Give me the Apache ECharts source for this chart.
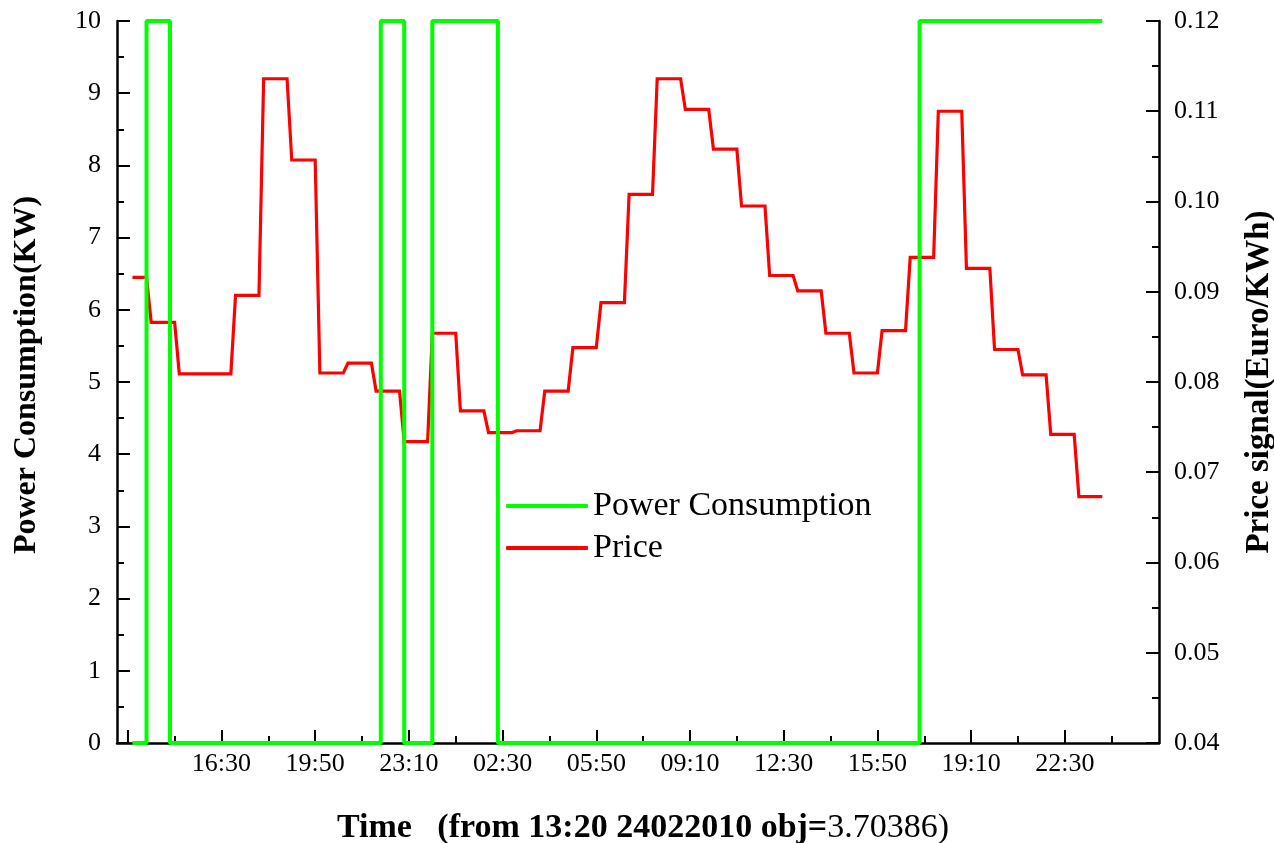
<!DOCTYPE html>
<html><head><meta charset="utf-8">
<script src="https://cdn.jsdelivr.net/npm/echarts@6/dist/echarts.min.js"></script>
<style>html,body{margin:0;padding:0;background:#fff}#c{width:1274px;height:843px}</style>
</head><body><div id="c"></div>
<script>
// x tick labels (every 200 min, starting at the 2nd major tick)
const xTickLabels = ['16:30','19:50','23:10','02:30','05:50','09:10','12:30','15:50','19:10','22:30'];
// hourly price blocks (start time of each block), Euro/KWh
const priceStarts = ['13:20','14:00','15:00','16:00','17:00','18:00','19:00','20:00','21:00','22:00','23:00',
  '00:00','01:00','02:00','03:00','04:00','05:00','06:00','07:00','08:00','09:00','10:00','11:00',
  '12:00','13:00','14:00','15:00','16:00','17:00','18:00','19:00','20:00','21:00','22:00','23:00'];
const priceValues = [0.0916,0.0866,0.0809,0.0809,0.0896,0.1136,0.1046,0.0810,0.0821,0.0790,0.0734,
  0.0854,0.0768,0.0744,0.0746,0.0790,0.0838,0.0888,0.1008,0.1136,0.1102,0.1058,0.0995,
  0.0918,0.0901,0.0854,0.0810,0.0857,0.0938,0.1100,0.0926,0.0836,0.0808,0.0742,0.0673];
// power consumption change points (KW)
const powerTimes = ['13:20','13:50','14:40','22:10','23:00','00:00','02:20','17:20','23:50'];
const powerValues = [0,10,0,10,0,10,0,10,10];

// minutes since 13:10 of day 1 (origin of the axis' first major tick)
function toMinutesSeq(list){
  let day = 0, prev = -1, out = [];
  for (const s of list){
    const [h,m] = s.split(':').map(Number);
    let v = h*60+m;
    if (v < prev) day++;
    prev = v;
    out.push(day*1440 + v - (13*60+10));
  }
  return out;
}
const priceT = toMinutesSeq(priceStarts);
const pricePts = [];
priceT.forEach((t,i)=>{
  const hourStart = Math.floor((t+10)/60)*60-10; // align to the full hour
  pricePts.push([t, priceValues[i]]);
  pricePts.push([hourStart+50, priceValues[i]]);
});
const powerT = toMinutesSeq(powerTimes);
const powerPts = powerT.map((t,i)=>[t, powerValues[i]]);

const majorVals = [], minorVals = [], labelVals = [];
for (let k=0;k<=10;k++){ majorVals.push(k*200); if(k>0) labelVals.push(k*200); }
for (let k=0;k<=10;k++){ minorVals.push(k*200+100); }

const FONT = 'Liberation Serif';
const black = '#000';
const axisLine = {show:true, onZero:false, lineStyle:{color:black, width:2.5}};
const chart = echarts.init(document.getElementById('c'), null, {renderer:'canvas'});
chart.setOption({
  animation:false,
  backgroundColor:'#fff',
  grid:{left:117, right:115, top:21, bottom:100, containLabel:false, outerBoundsMode:'none'},
  legend:{
    orient:'vertical', left:501, top:484, itemWidth:82, itemHeight:4, itemGap:8,
    data:[
      {name:'Power Consumption', icon:'roundRect', itemStyle:{color:'#00ff00'}},
      {name:'Price', icon:'roundRect', itemStyle:{color:'#ff0000'}}
    ],
    textStyle:{fontFamily:FONT, fontSize:34, color:black}
  },
  xAxis:[
    {type:'value', min:-23, max:2201, position:'bottom',
     axisLine:axisLine,
     axisTick:{show:true, inside:true, length:13, lineStyle:{color:black,width:2}, customValues:majorVals},
     axisLabel:{show:true, customValues:labelVals, fontFamily:FONT, fontSize:26, color:black, margin:8,
       formatter:v=>xTickLabels[Math.round(v/200)-1]},
     splitLine:{show:false},
     name:'{b|Time   (from 13:20 24022010 obj=}{r|3.70386)}',
     nameLocation:'middle', nameGap:68,
     nameTextStyle:{padding:[0,0,0,10], rich:{
       b:{fontFamily:FONT, fontSize:34, fontWeight:'bold', color:black},
       r:{fontFamily:FONT, fontSize:34, fontWeight:'normal', color:black}}}
    },
    {type:'value', min:-23, max:2201, position:'bottom',
     axisLine:{show:false, onZero:false},
     axisTick:{show:true, inside:true, length:7, lineStyle:{color:black,width:2}, customValues:minorVals},
     axisLabel:{show:false}, splitLine:{show:false}}
  ],
  yAxis:[
    {type:'value', min:0, max:10, interval:1, position:'left',
     axisLine:axisLine,
     axisTick:{show:true, inside:true, length:13, lineStyle:{color:black,width:2}},
     minorTick:{show:true, splitNumber:2, length:7, lineStyle:{color:black,width:2}},
     axisLabel:{fontFamily:FONT, fontSize:26, color:black, margin:16},
     splitLine:{show:false}, minorSplitLine:{show:false},
     name:'Power Consumption(KW)', nameLocation:'middle', nameRotate:90, nameGap:74,
     nameTextStyle:{fontFamily:FONT, fontSize:32, fontWeight:'bold', color:black, padding:[0,0,0,14]}
    },
    {type:'value', min:0.04, max:0.12, interval:0.01, position:'right',
     axisLine:axisLine,
     axisTick:{show:true, inside:true, length:13, lineStyle:{color:black,width:2}},
     minorTick:{show:true, splitNumber:2, length:7, lineStyle:{color:black,width:2}},
     axisLabel:{fontFamily:FONT, fontSize:26, color:black, margin:15, formatter:v=>v.toFixed(2)},
     splitLine:{show:false}, minorSplitLine:{show:false},
     name:'Price signal(Euro/KWh)', nameLocation:'middle', nameRotate:90, nameGap:84,
     nameTextStyle:{fontFamily:FONT, fontSize:33, fontWeight:'bold', color:black}
    }
  ],
  series:[
    {name:'Price', type:'line', xAxisIndex:0, yAxisIndex:1, data:pricePts, symbol:'none',
     lineStyle:{color:'#ff0000', width:3.2, join:'miter'}, itemStyle:{color:'#ff0000'}, z:2},
    {name:'Power Consumption', type:'line', xAxisIndex:0, yAxisIndex:0, data:powerPts, step:'end', symbol:'none',
     lineStyle:{color:'#00ff00', width:4}, itemStyle:{color:'#00ff00'}, z:3}
  ]
});
</script></body></html>
